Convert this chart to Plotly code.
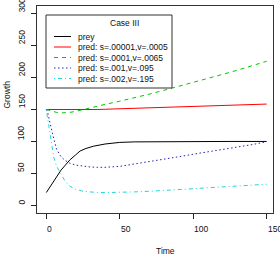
import plotly.graph_objects as go

# ---- data ----
t_prey = [0, 2, 5, 7, 10, 13, 16, 20, 23, 27, 32, 40, 50, 60, 80, 100, 125, 150]
prey = [20, 27, 37, 45, 55, 63, 71, 79, 85, 89, 92.5, 96, 98.5, 99.3, 99.8, 100, 100, 100]

t_pred = [0, 1, 2, 3, 4, 5, 7, 10, 13, 16, 20, 25, 30, 35, 40, 50, 60, 70, 80, 90,
          100, 110, 120, 130, 140, 150]
pred_a = [150, 150, 149.8, 149.6, 149.4, 149.3, 149.1, 149, 149, 149, 149, 149.3, 149.6,
          150, 150.4, 151.2, 152, 152.8, 153.6, 154.3, 155, 155.7, 156.3, 157, 157.7, 158.5]
pred_b = [150, 149.3, 148.5, 147.8, 147, 146.4, 145.5, 144.6, 144.8, 145.5, 147, 150, 153,
          155.5, 158, 163, 168, 174, 180, 186, 192.5, 199, 205, 211.5, 218.5, 225.5]
pred_c = [150, 145, 134, 123, 113, 105, 88, 76, 70, 66, 63, 61, 60, 59.5, 59.5, 61, 64.5,
          68.5, 72.5, 76, 80, 83.5, 87, 91, 95, 99.5]
pred_d = [150, 134, 118, 100, 85, 76, 61, 48, 37, 30, 25, 22, 20.5, 20, 20, 20, 21, 22, 23,
          24.5, 26, 27.5, 29, 30.5, 32, 33]

names = ["prey", "pred: s=.00001,v=.0005", "pred: s=.0001,v=.0065",
         "pred: s=.001,v=.095", "pred: s=.002,v=.195"]
colors = ["#000000", "#ff0000", "#00c800", "#2424b4", "#1cd8d8"]
dashes = ["solid", "solid", "4px,4px", "1.5px,2.5px", "1px,3px,4px,3px"]
xticks = [0, 50, 100, 150]
yticks = [0, 50, 100, 150, 200, 250, 300]
legend_title = "Case III"
x_title = "Time"
y_title = "Growth"

# ---- layout geometry (pixels) ----
W_IMG, H_IMG = 280, 258
L, R, T, B = 37, 273, 6, 213
PW, PH = R - L, B - T
FONT = "Liberation Sans, Arial, Helvetica, sans-serif"
FS = 8.5


def px(x):
    return (x - L) / PW


def py(y):
    return (B - y) / PH


fig = go.Figure()
series = [(t_prey, prey)] + [(t_pred, s) for s in (pred_a, pred_b, pred_c, pred_d)]
for (xs, ys), n, c, d in zip(series, names, colors, dashes):
    fig.add_trace(go.Scatter(x=xs, y=ys, mode="lines", name=n, showlegend=False,
                             line=dict(color=c, width=1, dash=d)))

ann = []
# x tick labels (left-anchored at tick, as in reference)
for v in xticks:
    ann.append(dict(x=v, xref="x", y=py(229.5), yref="paper", text=str(v), showarrow=False,
                    xanchor="left", yanchor="middle", borderpad=0,
                    font=dict(family=FONT, size=FS, color="#111")))
# y tick labels (rotated, starting at tick)
for v in yticks:
    ann.append(dict(x=px(21.7), xref="paper", y=v, yref="y", text=str(v), showarrow=False,
                    textangle=-90, xanchor="center", yanchor="bottom", borderpad=0,
                    font=dict(family=FONT, size=FS, color="#111")))
# axis titles
ann.append(dict(x=px((L + R) / 2), xref="paper", y=py(251), yref="paper", text=x_title,
                showarrow=False, xanchor="left", yanchor="middle", borderpad=0,
                font=dict(family=FONT, size=FS, color="#111")))
ann.append(dict(x=px(6), xref="paper", y=py((T + B) / 2), yref="paper", text=y_title,
                showarrow=False, textangle=-90, xanchor="center", yanchor="bottom",
                borderpad=0, font=dict(family=FONT, size=FS, color="#111")))

# legend (drawn manually to match base-R style)
shapes = [dict(type="rect", xref="paper", yref="paper", x0=px(46), x1=px(172),
               y0=py(88), y1=py(15), line=dict(color="#333", width=1),
               fillcolor="white", layer="above")]
ann.append(dict(x=px(109), xref="paper", y=py(22.5), yref="paper", text=legend_title,
                showarrow=False, xanchor="left", yanchor="middle", borderpad=0,
                font=dict(family=FONT, size=FS, color="#111")))
rows = [36.5, 47, 57.5, 68, 78.5]
for yy, n, c, d in zip(rows, names, colors, dashes):
    shapes.append(dict(type="line", xref="paper", yref="paper", x0=px(54), x1=px(71),
                       y0=py(yy), y1=py(yy), line=dict(color=c, width=1, dash=d),
                       layer="above"))
    ann.append(dict(x=px(77), xref="paper", y=py(yy), yref="paper", text=n,
                    showarrow=False, xanchor="left", yanchor="middle", borderpad=0,
                    font=dict(family=FONT, size=FS, color="#111")))

fig.update_layout(
    width=W_IMG, height=H_IMG,
    margin=dict(l=L, r=W_IMG - R, t=T, b=H_IMG - B, pad=0),
    paper_bgcolor="white", plot_bgcolor="white",
    font=dict(family=FONT, size=FS, color="#111"),
    annotations=ann, shapes=shapes,
    xaxis=dict(range=[-6.33, 154.3], tickvals=xticks, showticklabels=False,
               ticks="outside", ticklen=5, tickcolor="#222", tickwidth=1,
               showline=True, mirror=True, linecolor="#333", linewidth=1,
               showgrid=False, zeroline=False, fixedrange=True),
    yaxis=dict(range=[-12, 312], tickvals=yticks, showticklabels=False,
               ticks="outside", ticklen=5, tickcolor="#222", tickwidth=1,
               showline=True, mirror=True, linecolor="#333", linewidth=1,
               showgrid=False, zeroline=False, fixedrange=True),
    showlegend=False,
)

fig.write_html("out.html", config=dict(displayModeBar=False))
